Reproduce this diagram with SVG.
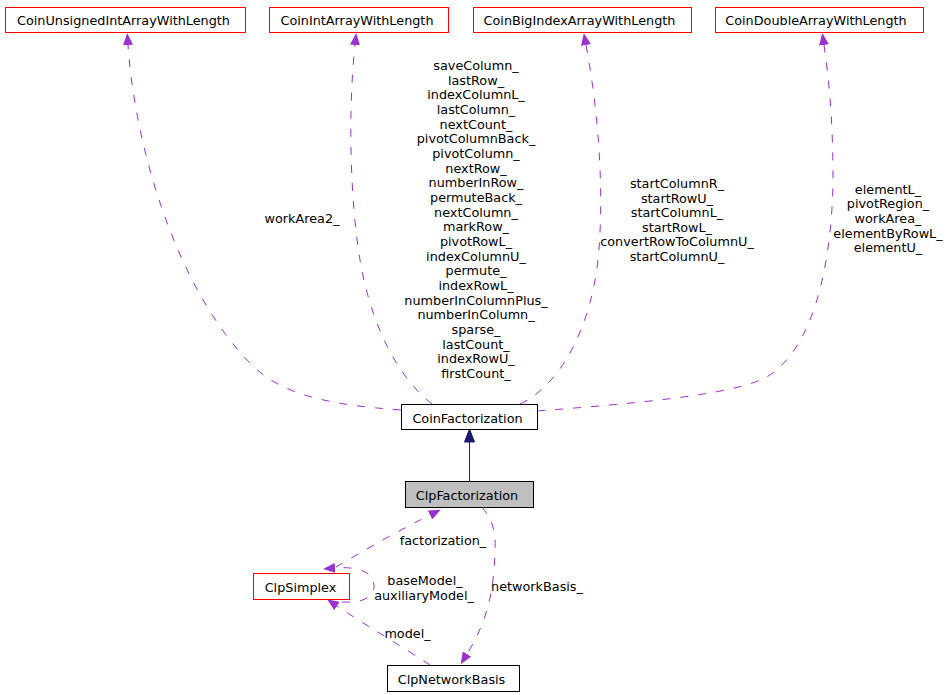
<svg xmlns="http://www.w3.org/2000/svg" width="950" height="695" viewBox="0 0 950 695">
<style>
text{font-family:"DejaVu Sans","Liberation Sans",sans-serif;font-size:12.8px;fill:#000;text-anchor:middle}
.n rect{fill:#fff;stroke:#000;stroke-width:1}
.n.r rect{stroke:#ff0000}
.n.cur rect{fill:#bfbfbf}
.e{fill:none;stroke:#9a32cd;stroke-width:1;stroke-dasharray:8,10}
</style>
<defs>
<marker id="ah" viewBox="0 0 12 10" refX="0" refY="5" markerWidth="12" markerHeight="10" markerUnits="userSpaceOnUse" orient="auto">
<path d="M0,0 L12,5 L0,10 z" fill="#9a32cd"/>
</marker>
</defs>
<rect width="950" height="695" fill="#fff"/>
<g id="edges">
<path class="e" marker-end="url(#ah)" d="M401,410 C330,405 280,395 250,363 C178,290 135,150 128,45"/>
<path class="e" marker-end="url(#ah)" d="M432,404 C395,375 370,320 360,260 C350,200 348,110 355,45"/>
<path class="e" marker-end="url(#ah)" d="M520,404 C560,385 590,330 598,260 C604,200 600,120 586,45"/>
<path class="e" marker-end="url(#ah)" d="M537,411 C640,403 730,395 765,378 C815,350 832,260 833,180 C833,120 829,80 824,45"/>
<line x1="469.5" y1="481" x2="469.5" y2="441" stroke="#191970" stroke-width="1"/>
<polygon points="469.5,429 464.5,442 474.5,442" fill="#191970" stroke="#191970"/>
<path class="e" marker-end="url(#ah)" d="M336,567 C360,553 390,535 430,515"/>
<path class="e" marker-end="url(#ah)" d="M342,602 C362,603 374,598 374,586 C374,574 362,566 335,568"/>
<path class="e" marker-end="url(#ah)" d="M430,665 C400,645 365,625 337,606"/>
<path class="e" marker-end="url(#ah)" d="M482,507 C492,520 496,530 495,550 C494,590 488,620 467,654"/>
<text x="302" y="223">workArea2_</text>
<text x="476" y="70">saveColumn_<tspan x="476" dy="14.67">lastRow_</tspan><tspan x="476" dy="14.67">indexColumnL_</tspan><tspan x="476" dy="14.67">lastColumn_</tspan><tspan x="476" dy="14.67">nextCount_</tspan><tspan x="476" dy="14.67">pivotColumnBack_</tspan><tspan x="476" dy="14.67">pivotColumn_</tspan><tspan x="476" dy="14.67">nextRow_</tspan><tspan x="476" dy="14.67">numberInRow_</tspan><tspan x="476" dy="14.67">permuteBack_</tspan><tspan x="476" dy="14.67">nextColumn_</tspan><tspan x="476" dy="14.67">markRow_</tspan><tspan x="476" dy="14.67">pivotRowL_</tspan><tspan x="476" dy="14.67">indexColumnU_</tspan><tspan x="476" dy="14.67">permute_</tspan><tspan x="476" dy="14.67">indexRowL_</tspan><tspan x="476" dy="14.67">numberInColumnPlus_</tspan><tspan x="476" dy="14.67">numberInColumn_</tspan><tspan x="476" dy="14.67">sparse_</tspan><tspan x="476" dy="14.67">lastCount_</tspan><tspan x="476" dy="14.67">indexRowU_</tspan><tspan x="476" dy="14.67">firstCount_</tspan></text>
<text x="677" y="188">startColumnR_<tspan x="677" dy="14.6">startRowU_</tspan><tspan x="677" dy="14.6">startColumnL_</tspan><tspan x="677" dy="14.6">startRowL_</tspan><tspan x="677" dy="14.6">convertRowToColumnU_</tspan><tspan x="677" dy="14.6">startColumnU_</tspan></text>
<text x="888" y="193.5">elementL_<tspan x="888" dy="14.67">pivotRegion_</tspan><tspan x="888" dy="14.67">workArea_</tspan><tspan x="888" dy="14.67">elementByRowL_</tspan><tspan x="888" dy="14.67">elementU_</tspan></text>
<text x="443" y="544.5">factorization_</text>
<text x="425" y="584.5">baseModel_</text>
<text x="424" y="599.5">auxiliaryModel_</text>
<text x="537" y="591">networkBasis_</text>
<text x="407.5" y="637.5">model_</text>
</g>
<g id="CoinUnsignedIntArrayWithLength" class="n r"><rect x="5.5" y="7.5" width="240" height="25"/><text x="123.5" y="25">CoinUnsignedIntArrayWithLength</text></g>
<g id="CoinIntArrayWithLength" class="n r"><rect x="269.5" y="7.5" width="179" height="25"/><text x="357" y="25">CoinIntArrayWithLength</text></g>
<g id="CoinBigIndexArrayWithLength" class="n r"><rect x="473.5" y="7.5" width="218" height="25"/><text x="579.5" y="25">CoinBigIndexArrayWithLength</text></g>
<g id="CoinDoubleArrayWithLength" class="n r"><rect x="715.5" y="7.5" width="208" height="25"/><text x="816" y="25">CoinDoubleArrayWithLength</text></g>
<g id="CoinFactorization" class="n"><rect x="401.5" y="404.5" width="136" height="25"/><text x="467.5" y="422.5">CoinFactorization</text></g>
<g id="ClpFactorization" class="n cur"><rect x="405.5" y="481.5" width="128" height="26"/><text x="467" y="499.5">ClpFactorization</text></g>
<g id="ClpSimplex" class="n r"><rect x="253.5" y="573.5" width="96" height="26" style="stroke:#ff0000"/><text x="300.5" y="591.5">ClpSimplex</text></g>
<g id="ClpNetworkBasis" class="n"><rect x="387.5" y="665.5" width="132" height="26"/><text x="451.5" y="684">ClpNetworkBasis</text></g>
</svg>
